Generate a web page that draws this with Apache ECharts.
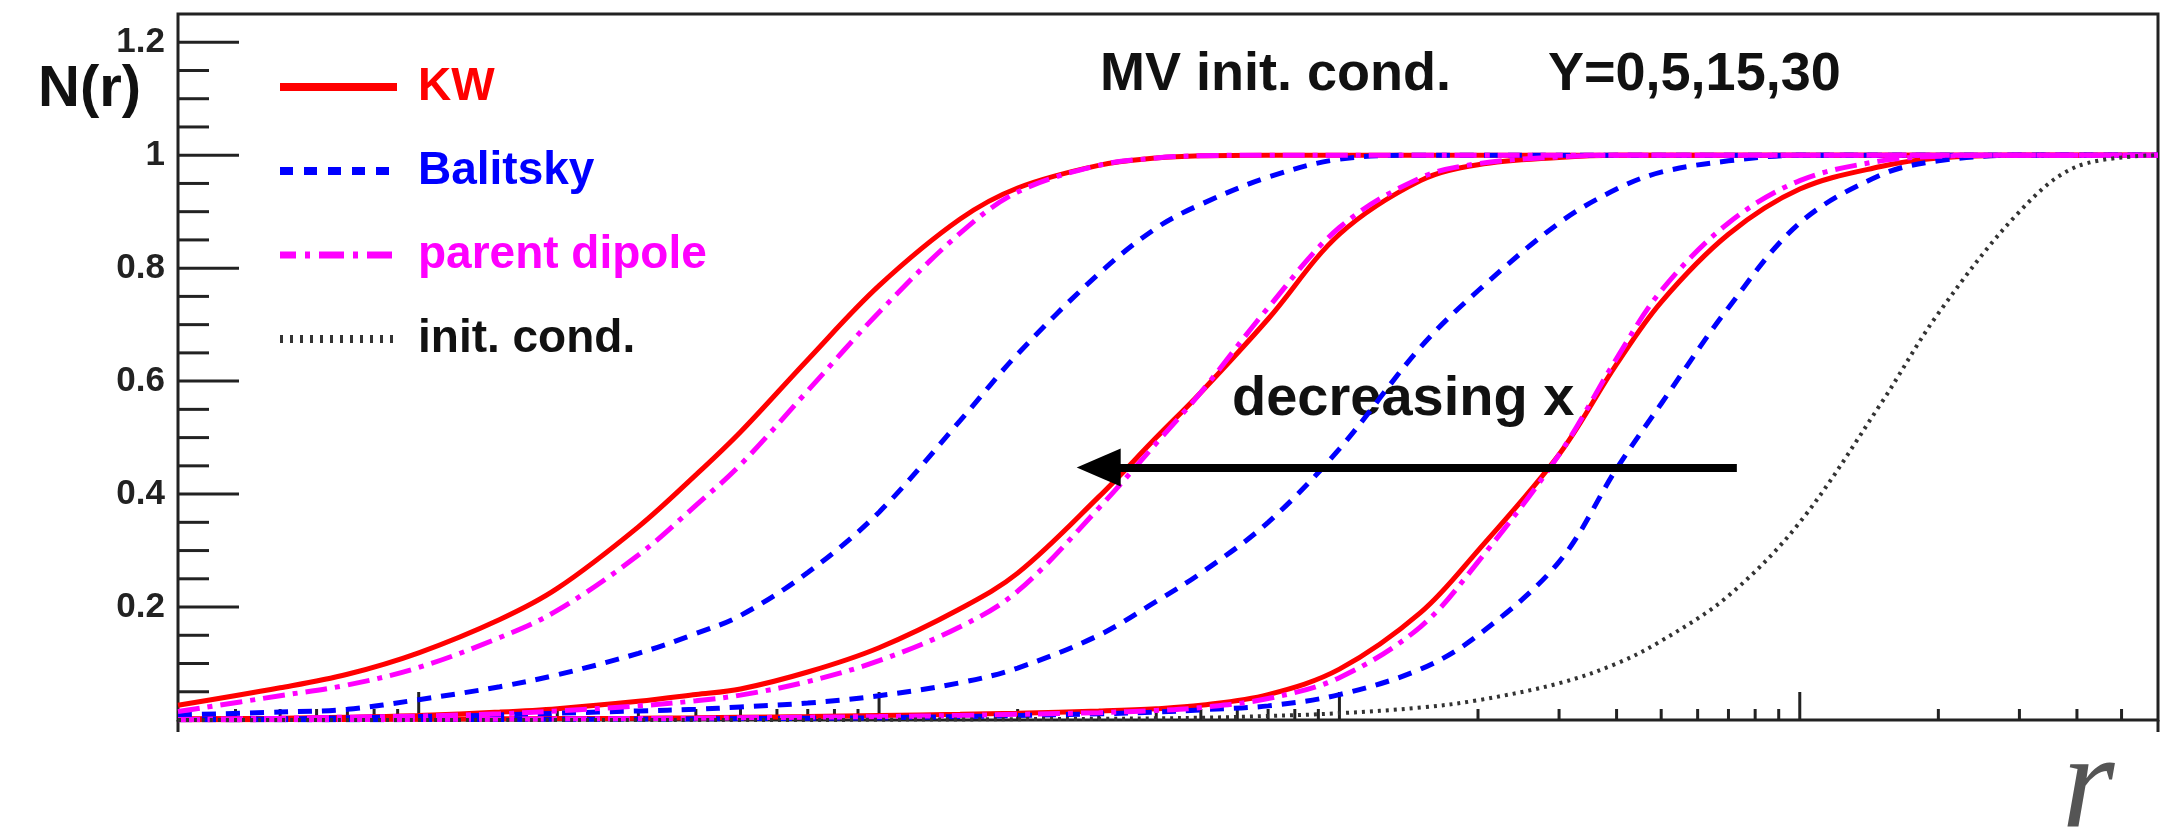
<!DOCTYPE html>
<html>
<head>
<meta charset="utf-8">
<script src="https://cdn.jsdelivr.net/npm/echarts@6/dist/echarts.min.js"></script>
<style>
html,body{margin:0;padding:0;background:#fff;}
#chart{width:2181px;height:830px;}
</style>
</head>
<body>
<div id="chart"></div>
<script>
// ---- data ----
const rGrid = [0.003,0.005,0.007,0.01,0.015,0.02,0.03,0.04,0.05,0.07,0.1,0.15,0.2,0.3,0.4,0.5,0.7,1,1.5,2,3,4,5,7,10,15,20,30,40,60];

const kwY30 = [0.026,0.057,0.081,0.119,0.178,0.233,0.342,0.434,0.510,0.638,0.769,0.887,0.942,0.982,0.995,0.999,1,1,1,1,1,1,1,1,1,1,1,1,1,1];
const pdY30 = [0.015,0.043,0.062,0.093,0.146,0.194,0.292,0.380,0.452,0.583,0.722,0.862,0.935,0.982,0.995,0.999,1,1,1,1,1,1,1,1,1,1,1,1,1,1];
const baY30 = [0.009,0.014,0.019,0.036,0.059,0.080,0.118,0.153,0.185,0.261,0.368,0.530,0.648,0.790,0.871,0.913,0.961,0.993,1,1,1,1,1,1,1,1,1,1,1,1];

const kwY15 = [0.002,0.003,0.005,0.008,0.014,0.020,0.033,0.045,0.055,0.085,0.128,0.197,0.26,0.395,0.50,0.58,0.71,0.86,0.955,0.983,0.996,1,1,1,1,1,1,1,1,1];
const pdY15 = [0.001,0.003,0.005,0.007,0.011,0.016,0.025,0.034,0.044,0.068,0.105,0.165,0.228,0.375,0.49,0.58,0.73,0.872,0.96,0.985,0.997,1,1,1,1,1,1,1,1,1];
const baY15 = [0.001,0.002,0.004,0.006,0.009,0.012,0.016,0.019,0.023,0.030,0.043,0.066,0.092,0.15,0.21,0.26,0.35,0.48,0.66,0.76,0.88,0.94,0.97,0.99,1,1,1,1,1,1];

const kwY5 = [0.0005,0.0007,0.001,0.0015,0.002,0.0025,0.003,0.004,0.005,0.006,0.008,0.010,0.012,0.016,0.020,0.026,0.045,0.09,0.19,0.30,0.47,0.63,0.74,0.86,0.94,0.98,0.995,1,1,1];
const pdY5 = [0.0004,0.0005,0.0007,0.001,0.0015,0.002,0.0025,0.003,0.004,0.005,0.006,0.008,0.010,0.013,0.017,0.022,0.038,0.075,0.165,0.28,0.47,0.64,0.76,0.88,0.955,0.99,0.998,1,1,1];
const baY5 = [0.0003,0.0004,0.0005,0.0007,0.001,0.0013,0.0017,0.002,0.0025,0.003,0.004,0.006,0.008,0.011,0.014,0.018,0.025,0.045,0.09,0.15,0.28,0.445,0.56,0.73,0.88,0.965,0.99,1,1,1];

const initCond = [0,0,0,0,0,0,0,0,0,0,0.0005,0.001,0.0015,0.002,0.003,0.004,0.007,0.012,0.022,0.035,0.065,0.10,0.14,0.22,0.35,0.56,0.72,0.90,0.98,1];

const legendNames = ['KW','Balitsky','parent dipole','init. cond.'];
const yTickLabels = [0.2,0.4,0.6,0.8,1,1.2];
const yMajorTicks = [0,0.2,0.4,0.6,0.8,1.0,1.2];
const yMinorTicks = [0.05,0.1,0.15,0.25,0.3,0.35,0.45,0.5,0.55,0.65,0.7,0.75,0.85,0.9,0.95,1.05,1.1,1.15];
const xMajorTicks = [0.01,0.1,1,10];
const xMinorTicks = [0.004,0.005,0.006,0.007,0.008,0.009,0.02,0.03,0.04,0.05,0.06,0.07,0.08,0.09,0.2,0.3,0.4,0.5,0.6,0.7,0.8,0.9,2,3,4,5,6,7,8,9,20,30,40,50];
const xEnds = [0.003,60];
const arrowTail = [7.3,0.447];
const arrowHead = [0.30,0.447];

// ---- chart ----
const FONT = '"Liberation Sans", Arial, Helvetica, sans-serif';
const chart = echarts.init(document.getElementById('chart'), null, {renderer:'canvas'});
const pairs = arr => rGrid.map((r,i)=>[r, arr[i]]);

const red='#ff0000', blue='#0000ff', mag='#ff00ff', blk='#333333';
const styles = {
  'KW': {color:red, type:'solid', width:5, legendDash:null, legendW:8, text:red},
  'Balitsky': {color:blue, type:[14,10], width:5, legendDash:[13,11], legendW:8, text:blue},
  'parent dipole': {color:mag, type:[22,8,5,8], width:5, legendDash:[25,9,5,9], legendW:7, text:mag},
  'init. cond.': {color:blk, type:[3,5], width:4, legendDash:[3,7], legendW:8, text:'#111'}
};
function lineSeries(name, arr){
  const s = styles[name];
  return {
    name, type:'line', data:pairs(arr), symbol:'none', showSymbol:false, smooth:0.35,
    lineStyle:{color:s.color, type:s.type, width:s.width}, itemStyle:{color:s.color},
    z:3, silent:true, animation:false, clip:true
  };
}
function tickSeries(name, data, axis){
  return {
    name, type:'custom', z:1, silent:true, clip:false, animation:false,
    data: data,
    renderItem:(params, api)=>{
      const v = api.value(0), len = api.value(1);
      let shape;
      if(axis==='x'){
        const p = api.coord([v, 0]);
        shape = {x1:p[0], y1:p[1], x2:p[0], y2:p[1]-len};
      } else {
        const p = api.coord([0.003, v]);
        shape = {x1:p[0], y1:p[1], x2:p[0]+len, y2:p[1]};
      }
      return {type:'line', shape, style:{stroke:'#222', lineWidth:3}};
    }
  };
}

// legend drawn as graphic elements (line sample + label)
const legendGraphics = [];
legendNames.forEach((n,i)=>{
  const s = styles[n];
  const y = 87 + i*84;
  legendGraphics.push({type:'line', silent:true,
    shape:{x1:280, y1:y, x2:397, y2:y},
    style:{stroke:s.color, lineWidth:s.legendW, lineDash:s.legendDash||null, lineDashOffset: n==='parent dipole'?9:0}});
  legendGraphics.push({type:'text', silent:true,
    style:{x:418, y:y, text:n, font:'bold 46px '+FONT, fill:s.text, verticalAlign:'middle'}});
});

const option = {
  backgroundColor:'#fff',
  animation:false,
  grid:{left:178, top:14, width:1980, height:706, show:true, borderColor:'#222', borderWidth:3, backgroundColor:'transparent'},
  xAxis:{type:'log', logBase:10, min:0.003, max:60,
    axisLine:{show:false}, axisTick:{show:false}, axisLabel:{show:false}, splitLine:{show:false}, minorTick:{show:false}},
  yAxis:{type:'value', min:0, max:1.25, interval:0.2,
    axisLine:{show:false}, axisTick:{show:false}, splitLine:{show:false},
    axisLabel:{show:true, margin:13, fontSize:35, fontWeight:'bold', fontFamily:FONT, color:'#222',
      formatter:v=>{ const hit = yTickLabels.find(t=>Math.abs(t-v)<1e-6); return hit===undefined?'':String(hit); }}},
  graphic:[
    {type:'text', silent:true, style:{x:38, y:90, text:'N(r)', font:'bold 58px '+FONT, fill:'#111', verticalAlign:'middle'}},
    {type:'text', silent:true, style:{x:1100, y:75, text:'MV init. cond.', font:'bold 54px '+FONT, fill:'#111', verticalAlign:'middle'}},
    {type:'text', silent:true, style:{x:1548, y:75, text:'Y=0,5,15,30', font:'bold 54px '+FONT, fill:'#111', verticalAlign:'middle'}},
    {type:'text', silent:true, style:{x:1232, y:400, text:'decreasing x', font:'bold 56px '+FONT, fill:'#111', verticalAlign:'middle'}},
    {type:'text', silent:true, style:{x:2062, y:792, text:'r', font:'italic 135px "Liberation Serif", "DejaVu Serif", serif', fill:'#555', verticalAlign:'middle'}}
  ].concat(legendGraphics),
  series:[
    tickSeries('xMajor', xMajorTicks.map(v=>[v,28]), 'x'),
    tickSeries('xMinor', xMinorTicks.map(v=>[v,11]), 'x'),
    tickSeries('xEnd', xEnds.map(v=>[v,-12]), 'x'),
    tickSeries('yMajor', yMajorTicks.map(v=>[v,61]), 'y'),
    tickSeries('yMinor', yMinorTicks.map(v=>[v,31]), 'y'),
    lineSeries('KW', kwY30), lineSeries('KW', kwY15), lineSeries('KW', kwY5),
    lineSeries('Balitsky', baY30), lineSeries('Balitsky', baY15), lineSeries('Balitsky', baY5),
    lineSeries('parent dipole', pdY30), lineSeries('parent dipole', pdY15), lineSeries('parent dipole', pdY5),
    lineSeries('init. cond.', initCond),
    {name:'arrow', type:'line', data:[], silent:true, z:4,
      markLine:{silent:true, symbol:['none','triangle'], symbolSize:[38,44], animation:false,
        label:{show:false}, lineStyle:{color:'#000', width:8, type:'solid'},
        data:[[{coord:arrowTail},{coord:arrowHead}]]}}
  ]
};
chart.setOption(option);
</script>
</body>
</html>
